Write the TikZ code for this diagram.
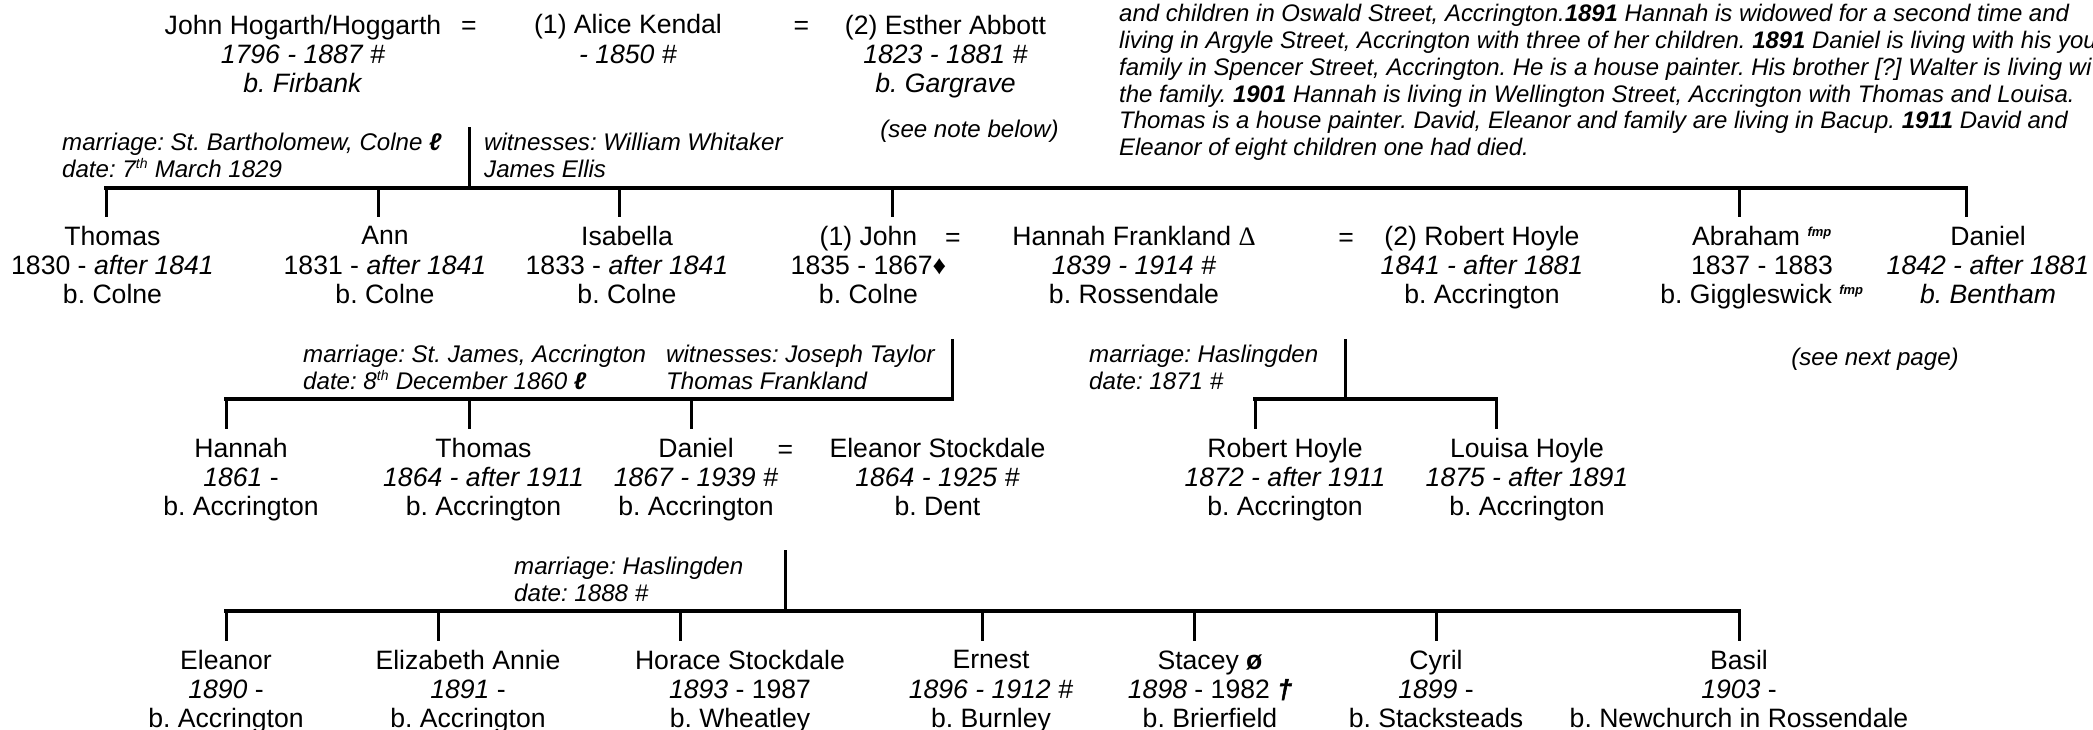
\documentclass[tikz,border=0pt]{standalone}
\usepackage{fontspec}
\setmainfont{Liberation Sans}
\newfontfamily\serifsym{Liberation Serif}
\newcommand{\sz}{\fontsize{26.6}{29.3}\selectfont}
\newcommand{\szn}{\fontsize{24.1}{26.7}\selectfont}
\newcommand{\lsym}{\textbf{\textit{ℓ}}}
\newcommand{\fmp}{\textsuperscript{\bfseries\itshape\fontsize{13}{13}\selectfont fmp}}
\newcommand{\thsup}[1]{\textsuperscript{\fontsize{14}{14}\selectfont #1}}
\tikzset{
  x=1pt,y=-1pt,
  person/.style={align=center,inner sep=0pt,font=\sz,yshift=-3.5pt,
    execute at begin node={\rule{0pt}{20pt}},execute at end node={\rule[-7pt]{0pt}{7pt}}},
  eqsign/.style={person},
  note/.style={align=left,anchor=west,inner sep=0pt,font=\szn\itshape,yshift=-3pt,
    execute at begin node={\rule{0pt}{17pt}},execute at end node={\rule[-6pt]{0pt}{6pt}}},
  bus/.style={line width=4pt,line cap=rect},
  stub/.style={line width=3pt},
}
\begin{document}
\frenchspacing
\begin{tikzpicture}
\useasboundingbox (0,0) rectangle (2093,729);
\clip (0,0) rectangle (2093,729);
% top generation
\node[person] (johnh) at (303,54) {John Hogarth/Hoggarth\\ \textit{1796 - 1887 \#}\\ \textit{b. Firbank}};
\node[eqsign] (eqa) at (469,24) {=};
\node[person] (alice) at (628,39) {(1) Alice Kendal\\ \textit{- 1850 \#}};
\node[eqsign] (eqb) at (801.5,24) {=};
\node[person] (esther) at (945.5,54) {(2) Esther Abbott\\ \textit{1823 - 1881 \#}\\ \textit{b. Gargrave}};
\node[note,anchor=center] (seenote) at (969.5,128.5) {(see note below)};
\node[note,font=\fontsize{23.93}{26.7}\selectfont\itshape] (story) at (1119,80) {and children in Oswald Street, Accrington.\textbf{1891} Hannah is widowed for a second time and\\
living in Argyle Street, Accrington with three of her children. \textbf{1891} Daniel is living with his you\\
family in Spencer Street, Accrington. He is a house painter. His brother [?] Walter is living wi\\
the family. \textbf{1901} Hannah is living in Wellington Street, Accrington with Thomas and Louisa.\\
Thomas is a house painter. David, Eleanor and family are living in Bacup. \textbf{1911} David and\\
Eleanor of eight children one had died.};
\node[note] (m1) at (62,155) {marriage: St. Bartholomew, Colne \lsym\\ date: 7\thsup{th} March 1829};
\node[note] (w1) at (484,155) {witnesses: William Whitaker\\ James Ellis};
% second generation
\node[person] (thomasa) at (112.5,265) {Thomas\\ 1830 - \textit{after 1841}\\ b. Colne};
\node[person] (ann) at (385,265) {Ann\\ 1831 - \textit{after 1841}\\ b. Colne};
\node[person] (isabella) at (627,265) {Isabella\\ 1833 - \textit{after 1841}\\ b. Colne};
\node[person] (john) at (868.5,265) {(1) John\\ 1835 - 1867♦\\ b. Colne};
\node[eqsign] (eqc) at (953,236) {=};
\node[person] (hannahf) at (1134,265) {Hannah Frankland {\serifsym Δ}\\ \textit{1839 - 1914 \#}\\ b. Rossendale};
\node[eqsign] (eqd) at (1346,236) {=};
\node[person] (robert) at (1482,265) {(2) Robert Hoyle\\ \textit{1841 - after 1881}\\ b. Accrington};
\node[person] (abraham) at (1762,265) {Abraham \fmp\\ 1837 - 1883\\ b. Giggleswick \fmp};
\node[person] (daniela) at (1988,265) {Daniel\\ \textit{1842 - after 1881}\\ \textit{b. Bentham}};
% third generation notes
\node[note] (m2) at (303,367) {marriage: St. James, Accrington\\ date: 8\thsup{th} December 1860 \lsym};
\node[note] (w2) at (666,367) {witnesses: Joseph Taylor\\ Thomas Frankland};
\node[note] (m3) at (1089,367) {marriage: Haslingden\\ date: 1871 \#};
\node[note,anchor=center] (seenext) at (1875,356.5) {(see next page)};
% third generation
\node[person] (hannah) at (241,477) {Hannah\\ \textit{1861} -\\ b. Accrington};
\node[person] (thomasb) at (483.5,477) {Thomas\\ \textit{1864 - after 1911}\\ b. Accrington};
\node[person] (danielb) at (696,477) {Daniel\\ \textit{1867 - 1939 \#}\\ b. Accrington};
\node[eqsign] (eqe) at (785.5,448) {=};
\node[person] (eleanors) at (937.5,477) {Eleanor Stockdale\\ \textit{1864 - 1925 \#}\\ b. Dent};
\node[person] (roberth) at (1285,477) {Robert Hoyle\\ \textit{1872 - after 1911}\\ b. Accrington};
\node[person] (louisa) at (1527,477) {Louisa Hoyle\\ \textit{1875 - after 1891}\\ b. Accrington};
\node[note] (m4) at (514,579) {marriage: Haslingden\\ date: 1888 \#};
% fourth generation
\node[person] (eleanor) at (226,689) {Eleanor\\ \textit{1890} -\\ b. Accrington};
\node[person] (elizabeth) at (468,689) {Elizabeth Annie\\ \textit{1891} -\\ b. Accrington};
\node[person] (horace) at (740,689) {Horace Stockdale\\ \textit{1893} - 1987\\ b. Wheatley};
\node[person] (ernest) at (991,689) {Ernest\\ \textit{1896 - 1912 \#}\\ b. Burnley};
\node[person] (stacey) at (1210,689) {Stacey \textbf{ø}\\ \textit{1898} - 1982 {\bfseries\itshape\addfontfeature{FakeBold=2}†}\\ b. Brierfield};
\node[person] (cyril) at (1436,689) {Cyril\\ \textit{1899} -\\ b. Stacksteads};
\node[person] (basil) at (1739,689) {Basil\\ \textit{1903} -\\ b. Newchurch in Rossendale};
% family 1
\coordinate (s1) at (469,127); \coordinate (j1) at (469,188);
\coordinate (l1) at (106,188); \coordinate (r1) at (1966,188);
\draw[bus] (l1) -- (r1);
\draw[stub] (s1) -- (j1);
\foreach \n/\x in {a/106,b/378,c/619,d/892,e/1739,f/1966}{
  \coordinate (t\n) at (\x,188); \coordinate (u\n) at (\x,217);
  \draw[stub] (t\n) -- (u\n);
}
% family 2
\coordinate (s2) at (952,339); \coordinate (l2) at (226,399); \coordinate (r2) at (952,399);
\draw[bus] (l2) -- (r2);
\draw[stub] (s2) -- (r2);
\foreach \n/\x in {a/226,b/469,c/691}{
  \coordinate (t\n) at (\x,399); \coordinate (u\n) at (\x,429);
  \draw[stub] (t\n) -- (u\n);
}
% family 3
\coordinate (s3) at (1345,339); \coordinate (j3) at (1345,399);
\coordinate (l3) at (1255,399); \coordinate (r3) at (1496,399);
\draw[bus] (l3) -- (r3);
\draw[stub] (s3) -- (j3);
\foreach \n/\x in {a/1255,b/1496}{
  \coordinate (t\n) at (\x,399); \coordinate (u\n) at (\x,429);
  \draw[stub] (t\n) -- (u\n);
}
% family 4
\coordinate (s4) at (785.5,550); \coordinate (j4) at (785.5,611);
\coordinate (l4) at (226,611); \coordinate (r4) at (1739,611);
\draw[bus] (l4) -- (r4);
\draw[stub] (s4) -- (j4);
\foreach \n/\x in {a/226,b/438,c/680,d/982,e/1194,f/1436,g/1739}{
  \coordinate (t\n) at (\x,611); \coordinate (u\n) at (\x,641);
  \draw[stub] (t\n) -- (u\n);
}
\end{tikzpicture}
\end{document}
